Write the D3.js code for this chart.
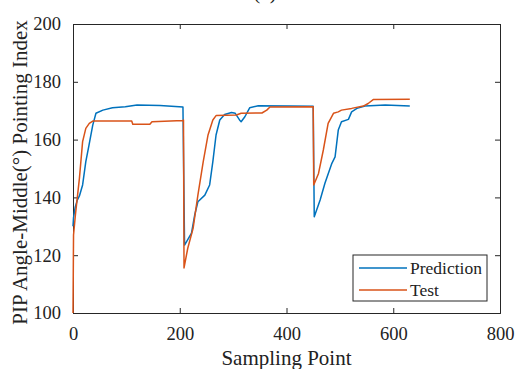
<!DOCTYPE html>
<html>
<head>
<meta charset="utf-8">
<script src="https://cdn.jsdelivr.net/npm/d3@7"></script>
<style>
  body { margin: 0; background: #fff; }
  svg { display: block; }
  text { font-family: "Liberation Serif", "Times New Roman", serif; fill: #222; }
</style>
</head>
<body>
<svg id="chart" width="518" height="369"></svg>
<script>
// values
var predX = [0, 1, 4, 8, 12, 18, 24, 30, 37, 43, 56, 74, 98, 120, 163, 206,
  209, 222, 228, 234, 247, 256, 262, 268, 275, 284, 297, 304, 312, 315, 322, 331, 347, 407, 450,
  452, 463, 472, 485, 491, 497, 503, 516, 522, 532, 547, 585, 631];
var predY = [130, 133, 136.5, 139, 140.5, 144.3, 152.4, 158.1, 165, 169.1, 170.2, 171, 171.4, 172, 171.8, 171.3,
  123.5, 127.6, 133.9, 138.5, 140.8, 144.3, 152.4, 161.6, 166.8, 168.7, 169.4, 169.1, 166.8, 166.2, 167.9, 171, 171.7, 171.6, 171.5,
  133.3, 139.1, 144.9, 151.8, 154, 163.3, 166.2, 167, 169.6, 170.8, 171.6, 172, 171.6];

var testX = [0, 1, 4.5, 12, 18, 24, 30.5, 37, 110, 112, 116, 144, 148, 206, 207,
  208, 215, 225, 234, 244, 253, 262, 268, 306, 315, 354, 363, 369, 450,
  451, 460, 469, 478, 488, 497, 503, 522, 544, 553, 563, 631];
var testY = [100, 127, 133.9, 146.6, 159.3, 163.9, 165.6, 166.4, 166.4, 165.3, 165.3, 165.3, 166.2, 166.6, 166.8,
  115.6, 122.4, 129.3, 140.8, 152.4, 161.6, 166.8, 168.3, 168.5, 169.1, 169.2, 170.2, 171.3, 171.4,
  144.3, 148.3, 156.4, 165.6, 169.1, 169.6, 170.2, 170.8, 171.6, 172.5, 173.9, 174];

var xTicks = [0, 200, 400, 600, 800];
var yTicks = [100, 120, 140, 160, 180, 200];
var seriesNames = ["Prediction", "Test"];
var colors = ["#0072BD", "#D95319"];

var svg = d3.select("#chart");
var mLeft = 73, mRight = 500, mTop = 24, mBottom = 313;

var x = d3.scaleLinear().domain([0, 800]).range([mLeft, mRight]);
var y = d3.scaleLinear().domain([100, 200]).range([mBottom, mTop]);

// axes, MATLAB style ticks inside
var tl = 5;
svg.append("g").attr("transform", "translate(0," + mBottom + ")")
  .call(d3.axisBottom(x).tickValues(xTicks).tickSize(-tl).tickPadding(14))
  .call(g => g.selectAll("text").attr("font-size", "18.5px"));
svg.append("g").attr("transform", "translate(0," + mTop + ")")
  .call(d3.axisTop(x).tickValues(xTicks).tickSize(-tl).tickFormat(""));
svg.append("g").attr("transform", "translate(" + mLeft + ",0)")
  .call(d3.axisLeft(y).tickValues(yTicks).tickSize(-tl).tickPadding(12))
  .call(g => g.selectAll("text").attr("font-size", "18.5px"));
svg.append("g").attr("transform", "translate(" + mRight + ",0)")
  .call(d3.axisRight(y).tickValues(yTicks).tickSize(-tl).tickFormat(""));

svg.selectAll(".domain").attr("stroke", "#262626").attr("stroke-width", 1);
svg.selectAll(".tick line").attr("stroke", "#262626");
svg.selectAll(".tick text").attr("fill", "#222").style("font-family", "Liberation Serif, serif");

var line = d3.line().x(d => x(d[0])).y(d => y(d[1]));

var series = [d3.zip(predX, predY), d3.zip(testX, testY)];
series.forEach(function(s, i) {
  svg.append("path")
    .datum(s)
    .attr("d", line)
    .attr("fill", "none")
    .attr("stroke", colors[i])
    .attr("stroke-width", 1.5)
    .attr("stroke-linejoin", "round");
});

// labels
svg.append("text")
  .attr("x", (mLeft + mRight) / 2)
  .attr("y", 365)
  .attr("text-anchor", "middle")
  .attr("font-size", "21px")
  .text("Sampling Point");

svg.append("text")
  .attr("transform", "translate(27," + ((mTop + mBottom) / 2 + 4) + ") rotate(-90)")
  .attr("text-anchor", "middle")
  .attr("font-size", "21px")
  .text("PIP Angle-Middle(°) Pointing Index");

svg.append("text")
  .attr("x", 265)
  .attr("y", -1)
  .attr("text-anchor", "middle")
  .attr("font-size", "21px")
  .text("(a)");

// legend
var lg = svg.append("g");
lg.append("rect")
  .attr("x", 353).attr("y", 255)
  .attr("width", 134).attr("height", 46)
  .attr("fill", "#fff")
  .attr("stroke", "#262626")
  .attr("stroke-width", 1);

seriesNames.forEach(function(name, i) {
  var ly = 268 + i * 22;
  lg.append("line")
    .attr("x1", 359).attr("x2", 407)
    .attr("y1", ly).attr("y2", ly)
    .attr("stroke", colors[i])
    .attr("stroke-width", 1.5);
  lg.append("text")
    .attr("x", 410)
    .attr("y", ly + 6)
    .attr("font-size", "17.5px")
    .text(name);
});
</script>
</body>
</html>
